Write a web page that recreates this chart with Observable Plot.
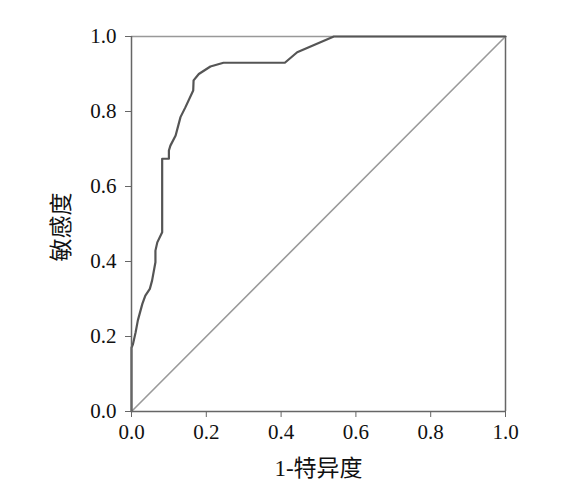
<!DOCTYPE html>
<html>
<head>
<meta charset="utf-8">
<script src="https://cdn.jsdelivr.net/npm/d3@7"></script>
<script src="https://cdn.jsdelivr.net/npm/@observablehq/plot@0.6"></script>
<style>
  html, body { margin: 0; padding: 0; background: #fff; }
  svg { display: block; }
</style>
</head>
<body>
<div id="chart"></div>
<script>
const fpr = [0, 0, 0.004, 0.011, 0.017, 0.029, 0.037, 0.049, 0.055, 0.064, 0.064, 0.069, 0.082, 0.082, 0.1, 0.1, 0.104, 0.118, 0.131, 0.144, 0.165, 0.166, 0.18, 0.211, 0.246, 0.41, 0.443, 0.541, 1];
const tpr = [0, 0.17, 0.18, 0.211, 0.243, 0.287, 0.309, 0.327, 0.349, 0.398, 0.429, 0.451, 0.478, 0.674, 0.674, 0.696, 0.709, 0.736, 0.785, 0.811, 0.856, 0.883, 0.90, 0.92, 0.93, 0.93, 0.958, 1, 1];
const refX = [0, 1];
const refY = [0, 1];
const ticks = [0, 0.2, 0.4, 0.6, 0.8, 1.0];
const xLabel = "1-特异度";
const yLabel = "敏感度";

const roc = fpr.map((x, i) => ({x, y: tpr[i]}));
const diag = refX.map((x, i) => ({x, y: refY[i]}));

const FONT = "'Liberation Serif', 'Times New Roman', 'Noto Sans CJK SC', serif";

const chart = Plot.plot({
  width: 578,
  height: 496,
  marginLeft: 131,
  marginRight: 73,
  marginTop: 36,
  marginBottom: 85,
  x: {domain: [0, 1]},
  y: {domain: [0, 1]},
  marks: [
    Plot.ruleY([1], {stroke: "#999", strokeWidth: 1.5}),
    Plot.ruleX([1], {stroke: "#666", strokeWidth: 1.5}),
    Plot.line(diag, {x: "x", y: "y", stroke: "#9a9a9a", strokeWidth: 1.6}),
    Plot.line(roc, {x: "x", y: "y", stroke: "#555", strokeWidth: 2.2}),
    Plot.ruleX([0], {stroke: "#666", strokeWidth: 1.5}),
    Plot.ruleY([0], {stroke: "#666", strokeWidth: 1.5}),
    Plot.axisX({ticks, tickSize: 6, tickPadding: 7, tickFormat: d3.format(".1f"), stroke: "#666",
      fontSize: 21, fontFamily: FONT, fill: "#111", label: null}),
    Plot.axisY({ticks, tickSize: 6, tickPadding: 9, tickFormat: d3.format(".1f"), stroke: "#666",
      fontSize: 21, fontFamily: FONT, fill: "#111", label: null}),
    Plot.text([xLabel], {frameAnchor: "bottom", lineAnchor: "middle", textAnchor: "middle", dy: 57, fontSize: 23, fontFamily: FONT, fill: "#111"}),
    Plot.text([yLabel], {frameAnchor: "left", textAnchor: "middle", lineAnchor: "middle", dx: -70, dy: 3, rotate: -90, fontSize: 23, fontFamily: FONT, fill: "#111"})
  ]
});
document.getElementById("chart").appendChild(chart);
</script>
</body>
</html>
